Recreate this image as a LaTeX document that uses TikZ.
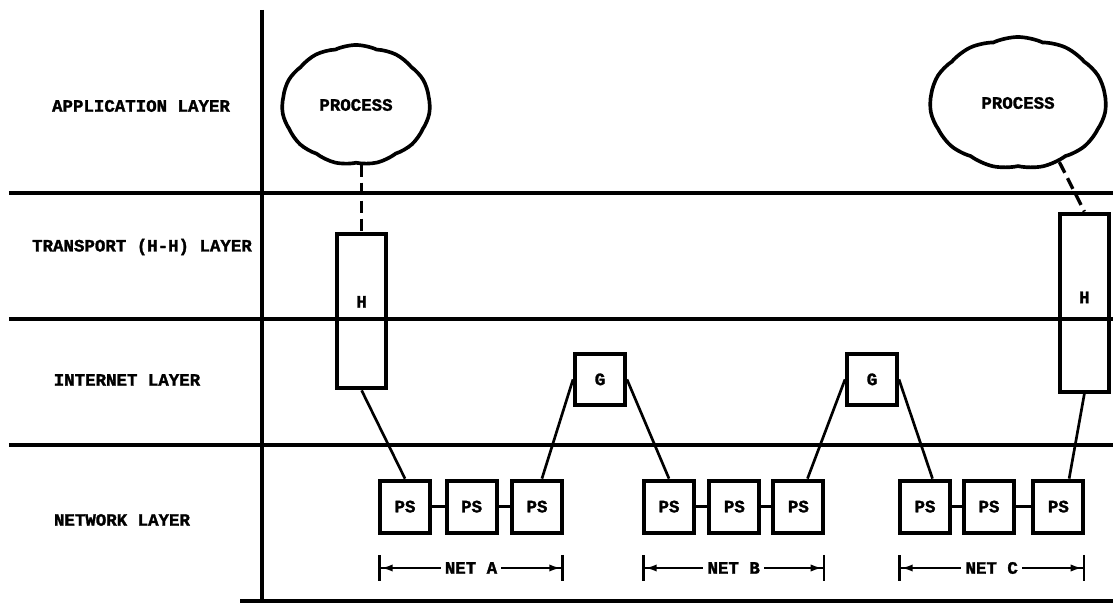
\documentclass[tikz,border=0pt]{standalone}
\usepackage{fontspec}
\setmonofont{Liberation Mono}[BoldFeatures={FakeBold=1.6}]
\usepackage{tikz}
\usetikzlibrary{arrows.meta,positioning,shapes.symbols,calc}
\newcommand{\diagfont}{\ttfamily\bfseries\fontsize{12.4}{14}\selectfont}

\begin{document}
\begin{tikzpicture}[
    layertext/.style={font=\diagfont},
    frame/.style={line width=2.5pt},
    process/.style={draw, shape=cloud, cloud puffs=11, cloud puff arc=50, aspect=1.3, line width=2.6pt, font=\diagfont, inner sep=1pt},
    hostbox/.style={draw, line width=2.8pt, minimum width=1.22cm, font=\diagfont},
    nodebox/.style={draw, line width=2.8pt, minimum width=1.25cm, minimum height=1.3cm, font=\diagfont},
    link/.style={line width=1.9pt},
    procline/.style={line width=2.4pt, dash pattern=on 0.3cm off 0.15cm},
    netspan/.style={line width=1.9pt, {Bar[width=0.65cm]Latex[length=0.3cm,width=0.18cm]}-{Latex[length=0.3cm,width=0.18cm]Bar[width=0.65cm]}},
    netlabel/.style={font=\diagfont, fill=white, inner sep=3pt},
]
\useasboundingbox (0,0) rectangle (27.825,15.075);

% ─────────────────────────────────────────
% Layer grid
% ─────────────────────────────────────────
\draw[frame] (6.55,14.825) -- (6.55,0.05);
\draw[frame] (0.22,10.25) -- (27.825,10.25);
\draw[frame] (0.22,7.1) -- (27.825,7.1);
\draw[frame] (0.22,3.95) -- (27.825,3.95);
\draw[frame] (6.0,0.05) -- (27.825,0.05);

\node[layertext] (appl)  at (3.525,12.425) {APPLICATION LAYER};
\node[layertext] (trans) at (3.55,8.9)     {TRANSPORT (H-H) LAYER};
\node[layertext] (inet)  at (3.175,5.575)  {INTERNET LAYER};
\node[layertext] (netl)  at (3.05,2.075)   {NETWORK LAYER};

% ─────────────────────────────────────────
% Processes and hosts
% ─────────────────────────────────────────
\node[process, minimum width=3.7cm, minimum height=3.0cm] (lcloud) at (8.9,12.45) {PROCESS};
\node[process, minimum width=4.4cm, minimum height=3.3cm] (rcloud) at (25.45,12.5) {PROCESS};

\node[hostbox, minimum height=3.85cm, label={[font=\diagfont]center:{\raisebox{0.48cm}{H}}}] (lh) at (9.04,7.29) {};
\node[hostbox, minimum height=4.45cm, label={[font=\diagfont]center:{\raisebox{0.26cm}{H}}}] (rh) at (27.11,7.51) {};

\draw[procline] (lcloud.south -| lh.north) -- (lh.north);
\draw[procline] (rcloud.-55) -- (rh.north);

% ─────────────────────────────────────────
% Gateways
% ─────────────────────────────────────────
\node[nodebox, minimum height=1.28cm] (g1) at (15.0,5.59) {G};
\node[nodebox, minimum height=1.28cm] (g2) at (21.8,5.59) {G};

% ─────────────────────────────────────────
% Packet switches: NET A, NET B, NET C
% ─────────────────────────────────────────
\node[nodebox] (a1) at (10.125,2.41)  {PS};
\node[nodebox] (a2) at (11.79,2.41)   {PS};
\node[nodebox] (a3) at (13.425,2.41)  {PS};

\node[nodebox] (b1) at (16.725,2.41)  {PS};
\node[nodebox] (b2) at (18.36,2.41)   {PS};
\node[nodebox] (b3) at (19.96,2.41)   {PS};

\node[nodebox] (c1) at (23.125,2.41)  {PS};
\node[nodebox] (c2) at (24.725,2.41)  {PS};
\node[nodebox] (c3) at (26.46,2.41)   {PS};

\draw[link] (a1) -- (a2);
\draw[link] (a2) -- (a3);
\draw[link] (b1) -- (b2);
\draw[link] (b2) -- (b3);
\draw[link] (c1) -- (c2);
\draw[link] (c2) -- (c3);

% host / gateway attachments
\draw[link] (lh.south) -- (a1.north);
\draw[link] (a3.80) -- (g1.west);
\draw[link] (g1.east) -- (b1.north);
\draw[link] (b3.72) -- (g2.west);
\draw[link] (g2.east) -- (c1.75);
\draw[link] (rh.south) -- (c3.69);

% net extents
\coordinate (netrow) at (0,0.875);
\draw[netspan] (a1.west |- netrow) -- node[netlabel] {NET A} (a3.east |- netrow);
\draw[netspan] (b1.west |- netrow) -- node[netlabel] {NET B} (b3.east |- netrow);
\draw[netspan] (c1.west |- netrow) -- node[netlabel] {NET C} (c3.east |- netrow);

\end{tikzpicture}
\end{document}
